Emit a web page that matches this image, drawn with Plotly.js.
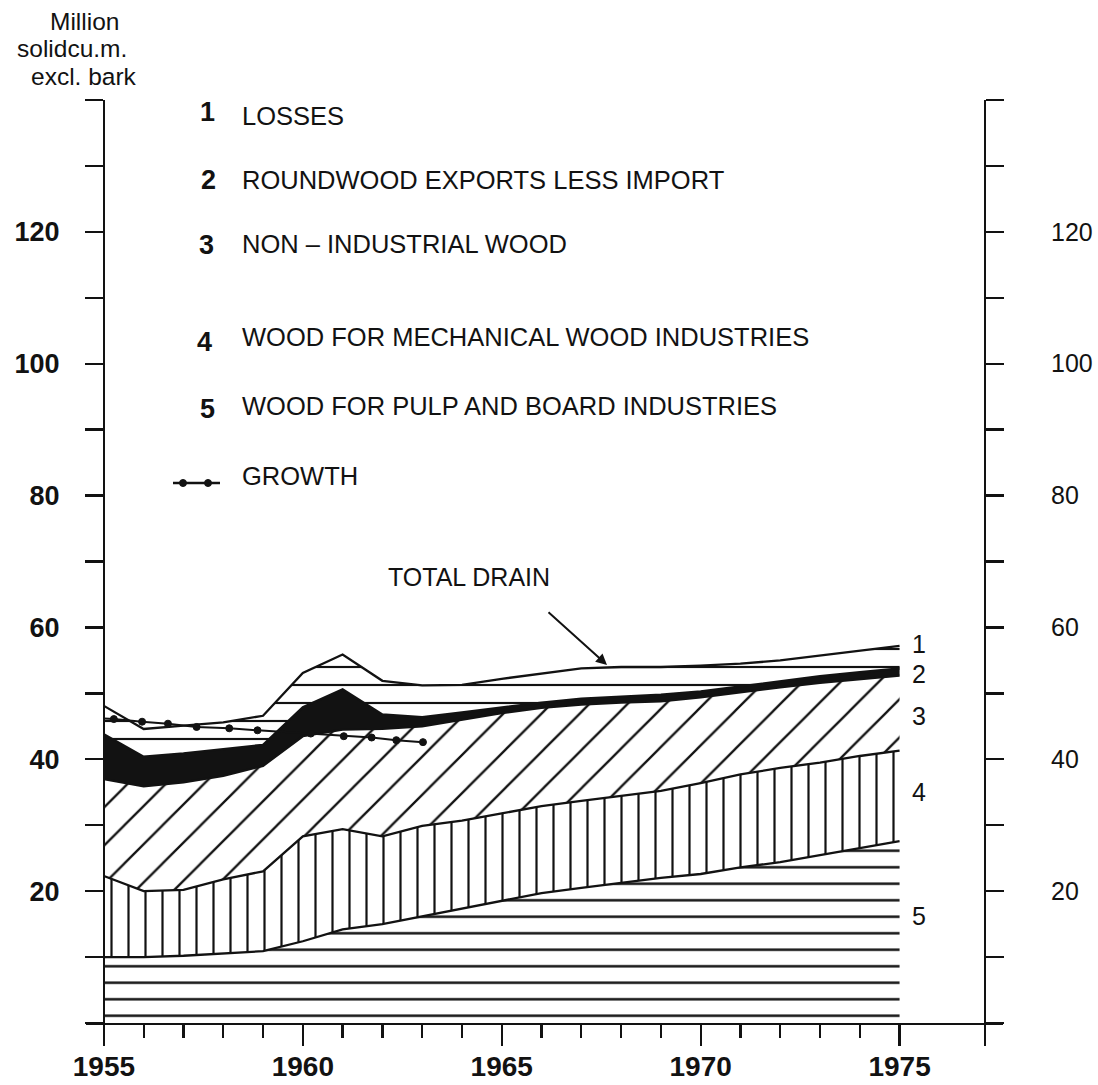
<!DOCTYPE html>
<html>
<head>
<meta charset="utf-8">
<script src="https://cdn.plot.ly/plotly-3.0.1.min.js"></script>
<style>
html,body{margin:0;padding:0;background:#fff;}
#chart{width:1098px;height:1085px;}
</style>
</head>
<body>
<div id="chart"></div>
<script>
// ---------- data (million solid cu.m. excl. bark) ----------
const years = [1955,1956,1957,1958,1959,1960,1961,1962,1963,1964,1965,1966,1967,1968,1969,1970,1971,1972,1973,1974,1975];
// 5 wood for pulp and board industries
const pulpBoard     = [10.0,10.0,10.2,10.5,10.9,12.4,14.2,15.0,16.2,17.4,18.6,19.7,20.5,21.3,22.0,22.6,23.6,24.4,25.5,26.6,27.6];
// 4 wood for mechanical wood industries
const mechanical    = [12.3,10.0,10.0,11.3,12.1,15.9,15.2,13.3,13.7,13.3,13.2,13.2,13.2,13.2,13.2,13.8,14.1,14.3,14.0,13.9,13.7];
// 3 non-industrial wood
const nonIndustrial = [14.7,15.9,16.3,15.7,16.0,15.2,15.1,16.3,15.1,15.3,15.2,14.9,14.6,14.1,13.6,13.0,12.5,12.2,12.1,11.7,11.4];
// 2 roundwood exports less import
const roundwoodNet  = [6.8,4.5,4.4,4.0,3.2,4.4,6.1,2.2,1.4,1.1,0.9,0.8,0.9,0.9,1.0,0.9,0.9,1.0,1.0,1.0,1.1];
// 1 losses
const losses        = [4.3,4.2,4.2,4.1,4.4,5.2,5.3,5.1,4.8,4.2,4.3,4.4,4.6,4.5,4.2,3.9,3.4,3.1,3.1,3.2,3.4];
// growth
const growthYears = [1955,1955.25,1955.96,1956.61,1957.33,1958.15,1958.86,1960.2,1961.03,1961.73,1962.35,1963.02];
const growth      = [46.2,46.1,45.7,45.4,44.9,44.7,44.4,43.9,43.5,43.3,42.9,42.6];

const xMajorTicks = [1955,1960,1965,1970,1975];
const xMinorTicks = [1956,1957,1958,1959,1961,1962,1963,1964,1966,1967,1968,1969,1971,1972,1973,1974];
const yTickVals = [0,10,20,30,40,50,60,70,80,90,100,110,120,130,140];
const yTickText = ['','','20','','40','','60','','80','','100','','120','',''];

const legendNumbers = ['1','2','3','4','5'];
const legendLabels = ['LOSSES','ROUNDWOOD EXPORTS LESS IMPORT','NON \u2013 INDUSTRIAL WOOD','WOOD FOR MECHANICAL WOOD INDUSTRIES','WOOD FOR PULP AND BOARD INDUSTRIES'];
const growthLabel = 'GROWTH';
const drainLabel = 'TOTAL DRAIN';
const unitLines = ['Million','solidcu.m.','excl. bark'];

// ---------- geometry ----------
const M = {l:86, r:95, t:100, b:62};
const W = 1098 - M.l - M.r, H = 1085 - M.t - M.b;
const xRange = [1954.55, 1977.6];
const rightAxisYear = 1977.14;
const px = x => (x - M.l) / W;
const py = y => (M.t + H - y) / H;
const axPos = yr => (yr - xRange[0]) / (xRange[1] - xRange[0]);

const INK = '#121212';
const sans = 'Liberation Sans, Arial, Helvetica, sans-serif';
const boundary = {color: INK, width: 2.3};

function layer(y, name, pattern, fill) {
  return {
    type: 'scatter', mode: 'lines', x: years, y: y, name: name,
    stackgroup: 'drain', line: boundary,
    fillcolor: fill, fillpattern: pattern,
    hoverinfo: 'skip', showlegend: false
  };
}

const traces = [
  layer(pulpBoard, 'Wood for pulp and board industries',
        {shape: '-', size: 16.5, solidity: 0.15, fgcolor: INK, bgcolor: 'white', fgopacity: 1}, 'white'),
  layer(mechanical, 'Wood for mechanical wood industries',
        {shape: '|', size: 17, solidity: 0.13, fgcolor: INK, bgcolor: 'white', fgopacity: 1}, 'white'),
  layer(nonIndustrial, 'Non-industrial wood',
        {shape: '/', size: 27, solidity: 0.085, fgcolor: INK, bgcolor: 'white', fgopacity: 1}, 'white'),
  layer(roundwoodNet, 'Roundwood exports less import', {shape: ''}, INK),
  layer(losses, 'Losses',
        {shape: '-', size: 18, solidity: 0.12, fgcolor: INK, bgcolor: 'white', fgopacity: 1}, 'white'),
  {
    type: 'scatter', mode: 'lines+markers', x: growthYears, y: growth, name: 'Growth',
    line: {color: INK, width: 2},
    marker: {color: INK, opacity: 1, size: growthYears.map((v, i) => i === 0 ? 0 : 7), line: {width: 1, color: INK}},
    hoverinfo: 'skip', showlegend: false
  }
];

const yCommon = {
  range: [0, 140], tickmode: 'array', tickvals: yTickVals, ticktext: yTickText,
  showline: true, linecolor: INK, linewidth: 2.3,
  ticks: 'outside', ticklen: 18, tickwidth: 2.3, tickcolor: INK,
  showgrid: false, zeroline: false, fixedrange: true
};

const annotations = [];
const numY = [112, 180, 245, 342, 409];
const numX = [207, 208, 206, 204, 207];
const labY = [116, 180, 244, 337, 406];
legendNumbers.forEach((n, i) => {
  annotations.push({xref:'paper', yref:'paper', x: px(numX[i]), y: py(numY[i]), text: n, showarrow: false,
    xanchor: 'center', yanchor: 'middle', font: {family: sans, size: 27, color: INK, weight: 'bold'}});
  annotations.push({xref:'paper', yref:'paper', x: px(240), y: py(labY[i]), text: legendLabels[i], showarrow: false,
    xanchor: 'left', yanchor: 'middle', font: {family: sans, size: 25.5, color: INK}});
});
annotations.push({xref:'paper', yref:'paper', x: px(240), y: py(476), text: growthLabel, showarrow: false,
  xanchor: 'left', yanchor: 'middle', font: {family: sans, size: 25.5, color: INK}});
// right-hand series numbers
const rNumY = [644, 674, 716, 792, 916];
legendNumbers.forEach((n, i) => {
  annotations.push({xref:'paper', yref:'paper', x: px(919), y: py(rNumY[i]), text: n, showarrow: false,
    xanchor: 'center', yanchor: 'middle', borderpad: 0, font: {family: sans, size: 25, color: INK}});
});
// total drain label + arrow
annotations.push({xref:'paper', yref:'paper', x: px(469), y: py(577), text: drainLabel, showarrow: false,
  xanchor: 'center', yanchor: 'middle', font: {family: sans, size: 25, color: INK}});
annotations.push({xref:'paper', yref:'paper', x: px(607), y: py(665), text: '', showarrow: true,
  ax: -60, ay: -54, arrowhead: 2, arrowsize: 1.1, arrowwidth: 2, arrowcolor: INK});
// unit label (three centred lines)
const unitX = [84, 72, 84], unitY = [21, 49, 77];
unitLines.forEach((t, i) => {
  annotations.push({xref:'paper', yref:'paper', x: px(unitX[i]), y: py(unitY[i]), text: t, showarrow: false,
    xanchor: 'center', yanchor: 'middle', font: {family: sans, size: 24.5, color: INK}});
});

const shapes = [
  {type: 'line', xref: 'paper', yref: 'paper', x0: px(173), x1: px(220), y0: py(483), y1: py(483),
   line: {color: INK, width: 2.5}},
  {type: 'circle', xref: 'paper', yref: 'paper', x0: px(179.5), x1: px(186.5), y0: py(486.5), y1: py(479.5),
   fillcolor: INK, line: {color: INK, width: 1}},
  {type: 'circle', xref: 'paper', yref: 'paper', x0: px(204.5), x1: px(211.5), y0: py(486.5), y1: py(479.5),
   fillcolor: INK, line: {color: INK, width: 1}}
];

const layout = {
  width: 1098, height: 1085,
  margin: M,
  paper_bgcolor: 'white', plot_bgcolor: 'white',
  showlegend: false,
  xaxis: {
    range: xRange, tickmode: 'array',
    tickvals: xMajorTicks.concat([rightAxisYear]),
    ticktext: xMajorTicks.map(String).concat(['']),
    ticks: 'outside', ticklen: 21, tickwidth: 2.3, tickcolor: INK,
    minor: {tickmode: 'array', tickvals: xMinorTicks, ticks: 'outside', ticklen: 13, tickwidth: 2.3, tickcolor: INK, showgrid: false},
    showline: true, linecolor: INK, linewidth: 2.3,
    showgrid: false, zeroline: false, fixedrange: true,
    ticklabelstandoff: -4,
    tickfont: {family: sans, size: 28, color: INK, weight: 'bold'}
  },
  yaxis: Object.assign({}, yCommon, {
    anchor: 'free', position: axPos(1955), side: 'left',
    ticklabelstandoff: 20,
    tickfont: {family: sans, size: 27, color: INK, weight: 'bold'}
  }),
  yaxis2: Object.assign({}, yCommon, {
    overlaying: 'y', anchor: 'free', position: axPos(rightAxisYear), side: 'right',
    ticklabelstandoff: 42,
    tickfont: {family: sans, size: 25, color: INK}
  }),
  annotations: annotations,
  shapes: shapes
};

// an invisible trace so that the right-hand axis is drawn
traces.push({type: 'scatter', mode: 'lines', x: [years[0]], y: [0], yaxis: 'y2',
  line: {width: 0}, hoverinfo: 'skip', showlegend: false});

Plotly.newPlot('chart', traces, layout, {displayModeBar: false, staticPlot: true});
</script>
</body>
</html>
